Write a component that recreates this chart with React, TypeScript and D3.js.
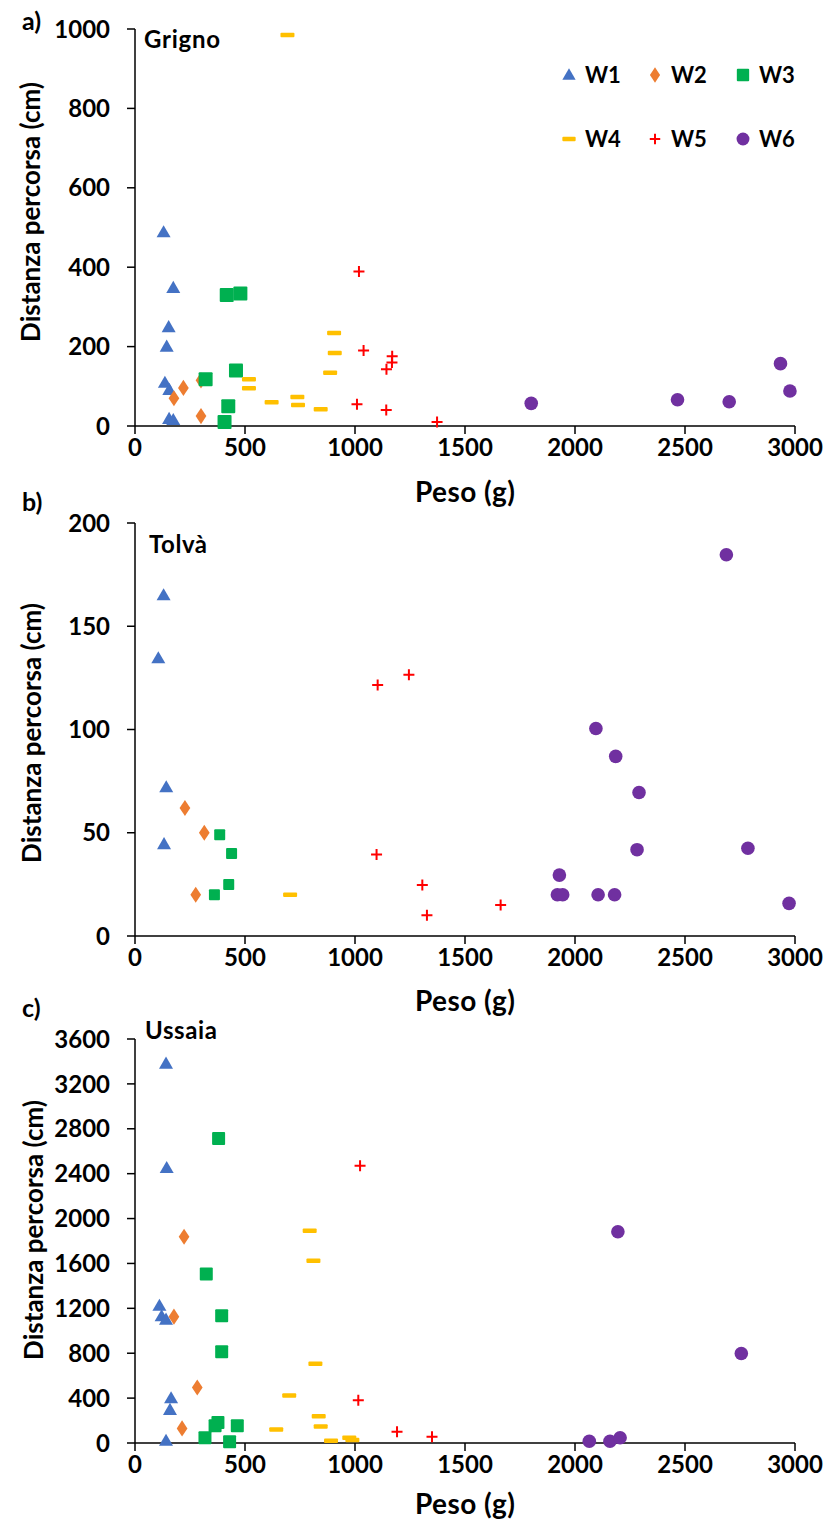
import React from "react";
import * as d3 from "d3";

type P = [number, number];

// ---------- data ----------
const xTickValues = [0, 500, 1000, 1500, 2000, 2500, 3000];
const seriesNames = ["W1", "W2", "W3", "W4", "W5", "W6"];
const seriesColors = ["#4472C4", "#ED7D31", "#00B050", "#FFC000", "#FF0000", "#7030A0"];

// a) Grigno
const grignoW1: P[] = [[130, 488], [174, 348], [153, 249], [144, 200], [136, 109], [156, 91], [155, 18], [174, 15]];
const grignoW2: P[] = [[220, 96], [177, 70], [300, 25], [300, 115]];
const grignoW3: P[] = [[417, 330], [479, 334], [321, 118], [459, 140], [424, 50], [407, 10]];
const grignoW4: P[] = [[693, 985], [518, 118], [518, 95], [621, 60], [738, 73], [741, 53], [844, 42], [887, 134], [908, 184], [905, 234]];
const grignoW5: P[] = [[1018, 389], [1039, 190], [1169, 176], [1168, 160], [1143, 143], [1009, 55], [1142, 40], [1373, 10]];
const grignoW6: P[] = [[1801, 57], [2466, 66], [2701, 61], [2934, 157], [2977, 88]];

// b) Tolvà
const tolvaW1: P[] = [[130, 165], [106, 134.5], [142, 72], [132, 44.5]];
const tolvaW2: P[] = [[227, 62], [315, 50], [276, 20]];
const tolvaW3: P[] = [[385, 49], [439, 40], [426, 25], [361, 20]];
const tolvaW4: P[] = [[705, 20]];
const tolvaW5: P[] = [[1103, 121.5], [1245, 126.5], [1098, 39.5], [1306, 24.7], [1327, 10], [1662, 15]];
const tolvaW6: P[] = [[2688, 184.6], [2095, 100.5], [2185, 87], [2291, 69.5], [2282, 41.8], [2786, 42.5], [1929, 29.5], [1920, 20], [1944, 20], [2105, 20], [2180, 20], [2973, 15.8]];

// c) Ussaia
const ussaiaW1: P[] = [[141, 3380], [144, 2450], [111, 1223], [121, 1129], [141, 1099], [164, 399], [159, 295], [141, 20]];
const ussaiaW2: P[] = [[223, 1838], [177, 1126], [283, 494], [214, 130]];
const ussaiaW3: P[] = [[380, 2713], [324, 1507], [394, 1135], [394, 813], [377, 183], [364, 153], [465, 153], [318, 47], [430, 12]];
const ussaiaW4: P[] = [[794, 1891], [811, 1625], [820, 706], [701, 423], [835, 239], [844, 148], [642, 121], [891, 20], [974, 47], [988, 27]];
const ussaiaW5: P[] = [[1023, 2471], [1015, 381], [1191, 100], [1350, 55]];
const ussaiaW6: P[] = [[2195, 1882], [2756, 798], [2065, 15], [2159, 15], [2205, 47]];

const grignoYTicks = [0, 200, 400, 600, 800, 1000];
const tolvaYTicks = [0, 50, 100, 150, 200];
const ussaiaYTicks = [0, 400, 800, 1200, 1600, 2000, 2400, 2800, 3200, 3600];

// ---------- layout ----------
const FONT = "Lato, 'Open Sans', sans-serif";
const X0 = 135;
const X1 = 795;

interface PanelDef {
  letter: string;
  site: string;
  top: number;
  bottom: number;
  yTicks: number[];
  series: P[][];
  titleCenter: number;
  titleX: number;
  siteX: number;
  siteY: number;
  siteLen: number;
  letterY: number;
  pesoY: number;
  squareSize: number;
  legend: boolean;
}

const panels: PanelDef[] = [
  { letter: "a)", site: "Grigno", top: 29, bottom: 426, yTicks: grignoYTicks, series: [grignoW1, grignoW2, grignoW3, grignoW4, grignoW5, grignoW6], titleCenter: 212, titleX: 40, siteX: 144, siteY: 48, siteLen: 76, letterY: 30, pesoY: 502, squareSize: 14, legend: true },
  { letter: "b)", site: "Tolvà", top: 523, bottom: 936, yTicks: tolvaYTicks, series: [tolvaW1, tolvaW2, tolvaW3, tolvaW4, tolvaW5, tolvaW6], titleCenter: 733, titleX: 41, siteX: 149, siteY: 553, siteLen: 58, letterY: 511, pesoY: 1011, squareSize: 11, legend: false },
  { letter: "c)", site: "Ussaia", top: 1039, bottom: 1443, yTicks: ussaiaYTicks, series: [ussaiaW1, ussaiaW2, ussaiaW3, ussaiaW4, ussaiaW5, ussaiaW6], titleCenter: 1230, titleX: 43, siteX: 145, siteY: 1039, siteLen: 72, letterY: 1017, pesoY: 1514, squareSize: 13, legend: false },
];

function Marker({ kind, x, y, sq, scale = 1 }: { kind: number; x: number; y: number; sq: number; scale?: number }) {
  const color = seriesColors[kind];
  if (kind === 0) {
    const p = d3.symbol().type(d3.symbolTriangle).size(85 * scale * scale)();
    return <path d={p || ""} transform={`translate(${x},${y + 1})`} fill={color} />;
  }
  if (kind === 1) {
    const p = d3.symbol().type(d3.symbolDiamond).size(75 * scale * scale)();
    return <path d={p || ""} transform={`translate(${x},${y}) scale(1.15,1)`} fill={color} />;
  }
  if (kind === 2) {
    const s = sq * scale;
    return <rect x={x - s / 2} y={y - s / 2} width={s} height={s} rx={1} fill={color} />;
  }
  if (kind === 3) {
    const w = 14 * scale;
    const h = 4.5 * scale;
    return <rect x={x - w / 2} y={y - h / 2} width={w} height={h} rx={1} fill={color} />;
  }
  if (kind === 4) {
    const r = 5.5 * scale;
    return <path d={`M${x - r},${y}H${x + r}M${x},${y - r}V${y + r}`} stroke={color} strokeWidth={2} fill="none" />;
  }
  const r = 6.8 * scale;
  return <circle cx={x} cy={y} r={r} fill={color} />;
}

function Panel({ def }: { def: PanelDef }) {
  const yMax = def.yTicks[def.yTicks.length - 1];
  const xs = d3.scaleLinear().domain([0, 3000]).range([X0, X1]);
  const ys = d3.scaleLinear().domain([0, yMax]).range([def.bottom, def.top]);
  const ax = "#000";
  return (
    <g>
      {/* axes */}
      <line x1={X0} x2={X0} y1={ys(yMax)} y2={def.bottom} stroke={ax} strokeWidth={1.5} />
      <line x1={X0} x2={X1} y1={def.bottom} y2={def.bottom} stroke={ax} strokeWidth={1.5} />
      {def.yTicks.map((t) => (
        <g key={"y" + t}>
          <line x1={X0 - 8} x2={X0} y1={ys(t)} y2={ys(t)} stroke={ax} strokeWidth={1.5} />
          <text x={110} y={ys(t)} dy="0.36em" textAnchor="end" fontFamily={FONT} fontWeight={700} fontSize={24} fill="#000">
            {t}
          </text>
        </g>
      ))}
      {xTickValues.map((t) => (
        <g key={"x" + t}>
          <line x1={xs(t)} x2={xs(t)} y1={def.bottom} y2={def.bottom + 8} stroke={ax} strokeWidth={1.5} />
          <text x={xs(t)} y={def.bottom + 30} textAnchor="middle" fontFamily={FONT} fontWeight={700} fontSize={24} fill="#000">
            {t}
          </text>
        </g>
      ))}
      {/* titles */}
      <text x={(X0 + X1) / 2} y={def.pesoY} textAnchor="middle" fontFamily={FONT} fontWeight={700} fontSize={28} textLength={100} lengthAdjust="spacing" fill="#000">
        Peso (g)
      </text>
      <text transform={`translate(${def.titleX},${def.titleCenter}) rotate(-90)`} textAnchor="middle" fontFamily={FONT} fontWeight={700} fontSize={26} fill="#000">
        Distanza percorsa (cm)
      </text>
      <text x={22} y={def.letterY} fontFamily={FONT} fontWeight={700} fontSize={25} fill="#000">
        {def.letter}
      </text>
      <text x={def.siteX} y={def.siteY} fontFamily={FONT} fontWeight={700} fontSize={24} textLength={def.siteLen} lengthAdjust="spacing" fill="#000">
        {def.site}
      </text>
      {/* markers */}
      {def.series.map((pts, si) =>
        pts.map((p, i) => <Marker key={si + "-" + i} kind={si} x={xs(p[0])} y={ys(p[1])} sq={def.squareSize} />)
      )}
      {def.legend &&
        seriesNames.map((name, i) => {
          const col = i % 3;
          const row = Math.floor(i / 3);
          const mx = [569, 655, 743][col];
          const my = [75, 139][row];
          return (
            <g key={name}>
              <Marker kind={i} x={mx} y={my} sq={13} scale={0.95} />
              <text x={mx + 16} y={my} dy="0.36em" fontFamily={FONT} fontWeight={700} fontSize={22} fill="#000">
                {name}
              </text>
            </g>
          );
        })}
    </g>
  );
}

export default function App() {
  return (
    <svg width={824} height={1521} style={{ position: "absolute", left: 0, top: 0, background: "#fff" }}>
      <rect width={824} height={1521} fill="#fff" />
      {panels.map((p) => (
        <Panel key={p.letter} def={p} />
      ))}
    </svg>
  );
}
